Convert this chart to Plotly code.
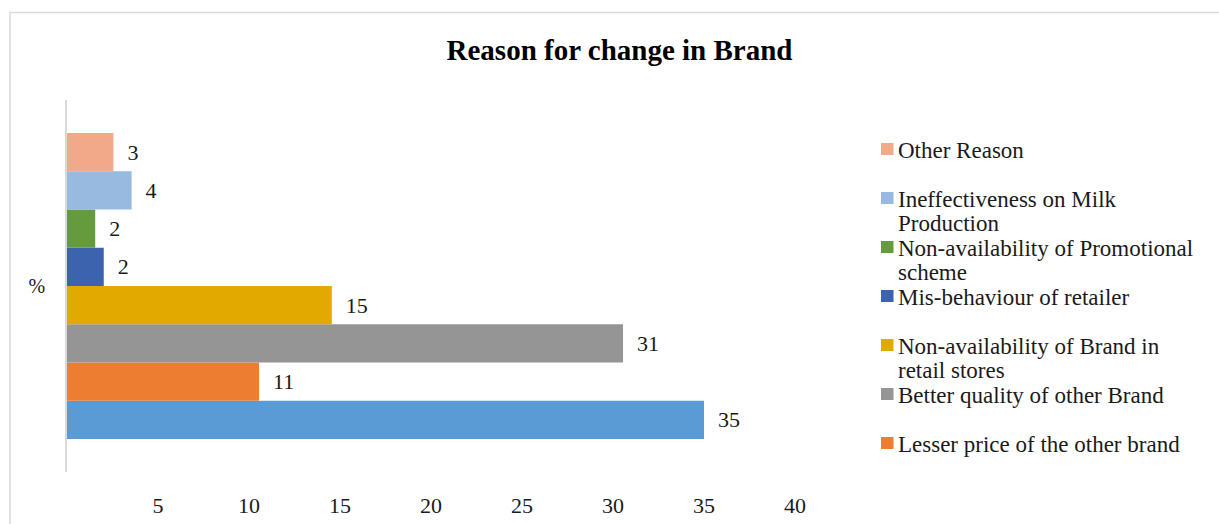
import plotly.graph_objects as go

# ---------------- data ----------------
category = ["%"]
series_names = [
    "Unlisted reason",
    "Lesser price of the other brand",
    "Better quality of other Brand",
    "Non-availability of Brand in retail stores",
    "Mis-behaviour of retailer",
    "Non-availability of Promotional scheme",
    "Ineffectiveness on Milk Production",
    "Other Reason",
]
legend_lines = [
    None,
    ["Lesser price of the other brand"],
    ["Better quality of other Brand"],
    ["Non-availability of Brand in", "retail stores"],
    ["Mis-behaviour of retailer"],
    ["Non-availability of Promotional", "scheme"],
    ["Ineffectiveness on Milk", "Production"],
    ["Other Reason"],
]
series_values = [35.0, 10.55, 30.55, 14.55, 2.02, 1.55, 3.55, 2.55]
series_colors = ["#5B9BD5", "#ED7D31", "#959595", "#E2AA00",
                 "#3B63AE", "#659B3D", "#98B9E0", "#F1A98A"]
x_tick_vals = [5, 10, 15, 20, 25, 30, 35, 40]

# ---------------- layout geometry (pixels) ----------------
W, H = 1219, 524
PL, PR, PT, PB = 67, 795, 100, 472
FONT = "Liberation Serif, Times New Roman, serif"
TXT = "#1a1a1a"

def px2x(px):
    return (px - PL) / (PR - PL)

def py2y(py):
    return (PB - py) / (PB - PT)

fig = go.Figure()
for name, val, col in zip(series_names, series_values, series_colors):
    fig.add_trace(go.Bar(
        y=category, x=[val], name=name, orientation="h",
        marker=dict(color=col, line=dict(width=0)),
        texttemplate="  %{x:.0f}", textposition="outside",
        textfont=dict(family=FONT, size=22, color=TXT),
        cliponaxis=False, showlegend=False, hoverinfo="x+name",
    ))

shapes = [dict(type="rect", xref="paper", yref="paper",
               x0=px2x(10), x1=px2x(1260), y0=py2y(560), y1=py2y(12.5),
               line=dict(color="#d9d9d9", width=1.5), fillcolor="rgba(0,0,0,0)",
               layer="below")]
annotations = []
# legend drawn top-to-bottom in reverse series order (last series first)
first_center = 150
step = 49
line_step = 24
order = [i for i in range(len(series_names) - 1, -1, -1) if legend_lines[i]]
for k, i in enumerate(order):
    cy = first_center + k * step
    shapes.append(dict(type="rect", xref="paper", yref="paper",
                       x0=px2x(881), x1=px2x(893.5), y0=py2y(cy + 5), y1=py2y(cy - 7),
                       fillcolor=series_colors[i], line=dict(width=0)))
    for j, line in enumerate(legend_lines[i]):
        annotations.append(dict(xref="paper", yref="paper", x=px2x(897),
                                y=py2y(cy + j * line_step),
                                xanchor="left", yanchor="middle", align="left",
                                showarrow=False, text=line, borderpad=0,
                                font=dict(family=FONT, size=23, color=TXT)))

fig.update_layout(
    width=W, height=H,
    margin=dict(l=PL, r=W - PR, t=PT, b=H - PB, pad=0),
    paper_bgcolor="white", plot_bgcolor="white",
    barmode="group", bargap=0.178, bargroupgap=0,
    showlegend=False,
    title=dict(text="<b>Reason for change in Brand</b>", xref="container", yref="container",
               x=619.5 / W, y=1 - 50 / H, xanchor="center", yanchor="middle",
               font=dict(family=FONT, size=29, color="#000")),
    xaxis=dict(range=[0, 40], tickvals=x_tick_vals, showgrid=False, zeroline=False,
               showline=False, ticks="", ticklabelstandoff=18, automargin=False,
               tickfont=dict(family=FONT, size=22, color=TXT)),
    yaxis=dict(showgrid=False, zeroline=False, showline=True, linecolor="#d9d9d9",
               linewidth=1.5, ticks="", ticklabelstandoff=16, automargin=False,
               tickfont=dict(family=FONT, size=20, color=TXT)),
    shapes=shapes, annotations=annotations,
)

fig.write_html("out.html")
